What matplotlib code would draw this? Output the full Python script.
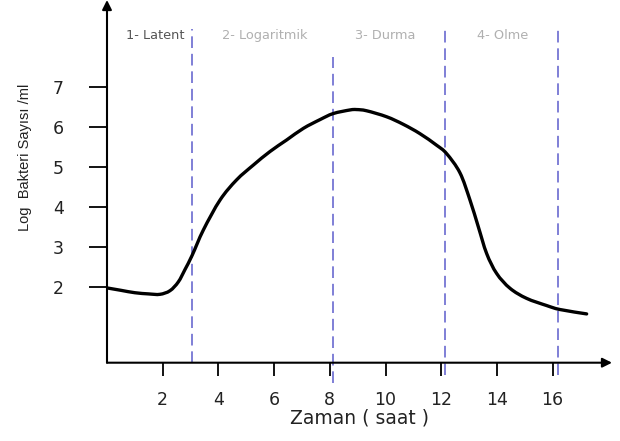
import matplotlib
matplotlib.use('Agg')
import matplotlib.pyplot as plt
from matplotlib.path import Path
from matplotlib.patches import PathPatch

# Bakteri büyüme eğrisi (okunan değerler)
saat = [0, 0.5, 1.0, 1.5, 1.9, 2.26, 2.56, 2.8, 3.06, 3.46, 4.06, 4.65, 5.25,
        5.85, 6.45, 7.05, 7.65, 8.12, 8.72, 8.96, 9.32, 10.04, 10.64, 11.23,
        11.83, 12.19, 12.67, 13.03, 13.33, 13.63, 13.99, 14.47, 15.06, 15.78,
        16.26, 17.22]
log_sayi = [1.97, 1.91, 1.85, 1.82, 1.81, 1.9, 2.12, 2.43, 2.79, 3.42, 4.17,
            4.67, 5.04, 5.38, 5.67, 5.96, 6.18, 6.33, 6.42, 6.43, 6.40, 6.25,
            6.06, 5.83, 5.54, 5.33, 4.85, 4.17, 3.5, 2.83, 2.33, 1.96, 1.71,
            1.53, 1.43, 1.32]

# faz sınırları ve etiketleri
sinirlar = [3.05, 8.1, 12.15, 16.2]
sinir_ust = [8.44, 7.74, 8.44, 8.44]
sinir_alt = [0.1, -0.41, -0.21, -0.21]
faz_adlari = ['1- Latent', '2- Logaritmik', '3- Durma', '4- Olme']
faz_x = [1.72, 5.67, 9.98, 14.21]
faz_renk = ['#555555', '#b0b0b0', '#b0b0b0', '#b0b0b0']

x_ticks = [2, 4, 6, 8, 10, 12, 14, 16]
y_ticks = [2, 3, 4, 5, 6, 7]


def yumusak_yol(xs, ys):
    # noktalardan geçen Catmull-Rom -> kübik Bezier yolu
    pts = list(zip(xs, ys))
    verts = [pts[0]]
    codes = [Path.MOVETO]
    n = len(pts)
    for i in range(n - 1):
        p0 = pts[max(i - 1, 0)]
        p1 = pts[i]
        p2 = pts[i + 1]
        p3 = pts[min(i + 2, n - 1)]
        c1 = (p1[0] + (p2[0] - p0[0]) / 6, p1[1] + (p2[1] - p0[1]) / 6)
        c2 = (p2[0] - (p3[0] - p1[0]) / 6, p2[1] - (p3[1] - p1[1]) / 6)
        verts += [c1, c2, p2]
        codes += [Path.CURVE4] * 3
    return Path(verts, codes)


fig = plt.figure(figsize=(6.2, 4.41), dpi=100)
ax = fig.add_axes([107 / 620, (441 - 362.7) / 441, (612 - 107) / 620, 362.7 / 441])
ax.set_xlim(0, 18.13)
ax.set_ylim(0.1, 9.17)

for s in ax.spines.values():
    s.set_visible(False)

# eksen okları
ax.annotate('', xy=(1, 0), xytext=(0, 0), xycoords='axes fraction',
            arrowprops=dict(arrowstyle='-|>', lw=1.5, color='black',
                            mutation_scale=14, shrinkA=0, shrinkB=0))
ax.annotate('', xy=(0, 1), xytext=(0, 0), xycoords='axes fraction',
            arrowprops=dict(arrowstyle='-|>', lw=1.5, color='black',
                            mutation_scale=14, shrinkA=0, shrinkB=0))

# faz çizgileri
for xv, yt, yb in zip(sinirlar, sinir_ust, sinir_alt):
    ax.plot([xv, xv], [yb, yt], color='#6a6ad0', lw=1.2,
            dashes=(7, 3.5), clip_on=False, zorder=1)

for ad, xv, c in zip(faz_adlari, faz_x, faz_renk):
    ax.text(xv, 8.29, ad, ha='center', va='center', fontsize=9.3,
            color=c, family='DejaVu Sans')

# eğri
egri = PathPatch(yumusak_yol(saat, log_sayi), facecolor='none',
                 edgecolor='black', lw=2.4, capstyle='round',
                 joinstyle='round', zorder=3)
ax.add_patch(egri)

ax.set_xticks(x_ticks)
ax.set_yticks(y_ticks)
ax.tick_params(axis='x', direction='out', length=9.5, width=1.3,
               pad=11, labelsize=12.5, labelcolor='#222222')
ax.tick_params(axis='y', direction='out', length=13, width=1.3,
               pad=18, labelsize=12.5, labelcolor='#222222')
for lab in ax.get_xticklabels() + ax.get_yticklabels():
    lab.set_family('DejaVu Sans')

fig.text(360 / 620, 1 - 418 / 441, 'Zaman ( saat )', ha='center', va='center',
         fontsize=13.5, color='#222222', family='DejaVu Sans')
fig.text(25 / 620, 1 - 157 / 441, 'Log  Bakteri Sayısı /ml', rotation=90,
         ha='center', va='center', fontsize=10.5, color='#222222',
         family='Liberation Sans')

fig.savefig('out.png', dpi=100)
